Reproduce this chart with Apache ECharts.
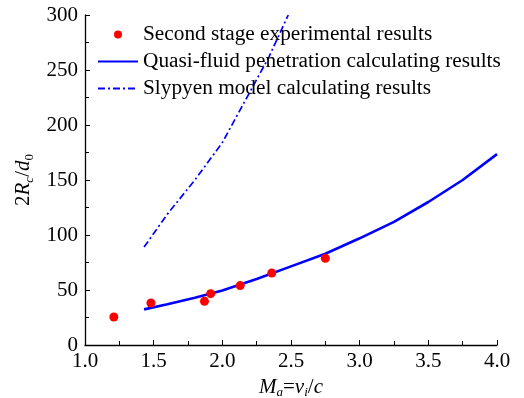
<!DOCTYPE html>
<html>
<head>
<meta charset="utf-8">
<script src="https://cdn.jsdelivr.net/npm/echarts@6/dist/echarts.min.js"></script>
<style>
  html, body { margin: 0; padding: 0; background: #fff; }
  #chart { width: 524px; height: 398px; }
</style>
</head>
<body>
<div id="chart"></div>
<script>
// Second stage experiments: Mach number vs. crater diameter ratio
const expMach = [1.21, 1.48, 1.87, 1.915, 2.13, 2.36, 2.75];
const expRatio = [25.5, 38.2, 39.7, 46.7, 54.0, 65.5, 78.8];

// Quasi-fluid penetration model
const quasiMach = [1.43, 1.6, 1.8, 2.0, 2.25, 2.5, 2.75, 3.0, 3.25, 3.5, 3.75, 4.0];
const quasiRatio = [32.4, 37, 43, 49.5, 60, 71.5, 83, 97, 112, 130, 150, 173.5];

// Slypyen model
const slyMach = [1.43, 1.6, 1.8, 2.0, 2.17, 2.34, 2.48];
const slyRatio = [89, 119, 150, 184, 223, 262, 300];

const seriesNames = [
  'Second stage experimental results',
  'Quasi-fluid penetration calculating results',
  'Slypyen model calculating results'
];

const serif = 'Liberation Serif';
const zip = (xs, ys) => xs.map((x, i) => [x, ys[i]]);

const chart = echarts.init(document.getElementById('chart'), null, { renderer: 'canvas' });

const axisCommon = {
  axisLine: { show: true, lineStyle: { color: '#000', width: 1.3 } },
  axisTick: { show: true, inside: true, length: 5, lineStyle: { color: '#000', width: 1 } },
  minorTick: { show: true, splitNumber: 2, length: 4, lineStyle: { color: '#000', width: 1 } },
  splitLine: { show: false },
  minorSplitLine: { show: false },
  axisLabel: { color: '#000', fontFamily: serif, fontSize: 21 }
};

// Axis titles: italic symbols with lowered subscripts
const richName = {
  i: { fontFamily: serif, fontStyle: 'italic', fontSize: 21, color: '#000', lineHeight: 24, verticalAlign: 'middle' },
  n: { fontFamily: serif, fontSize: 21, color: '#000', lineHeight: 24, verticalAlign: 'middle' },
  s: { fontFamily: serif, fontStyle: 'italic', fontSize: 13, color: '#000', lineHeight: 24, verticalAlign: 'bottom' },
  u: { fontFamily: serif, fontSize: 13, color: '#000', lineHeight: 24, verticalAlign: 'bottom' }
};

// Legend icons for the two curves: line only, no point marker
const hiddenMarker = { opacity: 0 };

chart.setOption({
  animation: false,
  backgroundColor: '#fff',
  grid: { left: 85, right: 27, top: 15, bottom: 53, containLabel: false, outerBoundsMode: 'none' },
  legend: {
    orient: 'vertical',
    left: 97,
    top: 24,
    padding: 0,
    itemWidth: 40,
    itemHeight: 8,
    itemGap: 6,
    textStyle: { color: '#000', fontFamily: serif, fontSize: 21.3 },
    data: [
      { name: seriesNames[0], icon: 'circle' },
      { name: seriesNames[1], itemStyle: hiddenMarker },
      { name: seriesNames[2], itemStyle: hiddenMarker }
    ]
  },
  xAxis: Object.assign({}, axisCommon, {
    type: 'value',
    min: 1.0,
    max: 4.0,
    interval: 0.5,
    axisLabel: Object.assign({}, axisCommon.axisLabel, {
      margin: 6,
      formatter: v => v.toFixed(1)
    }),
    name: '{i|M}{s|a}{n|=}{i|v}{s|i}{n|/}{i|c}',
    nameLocation: 'middle',
    nameGap: 26,
    nameTextStyle: { rich: richName }
  }),
  yAxis: Object.assign({}, axisCommon, {
    type: 'value',
    min: 0,
    max: 300,
    interval: 50,
    axisLabel: Object.assign({}, axisCommon.axisLabel, { margin: 7 }),
    name: '{n|2}{i|R}{s|c}{n|/}{i|d}{u|0}',
    nameLocation: 'middle',
    nameRotate: 90,
    nameGap: 47,
    nameTextStyle: { rich: richName }
  }),
  series: [
    {
      name: seriesNames[0],
      type: 'scatter',
      symbol: 'circle',
      symbolSize: 9,
      itemStyle: { color: '#ff0000', opacity: 1 },
      data: zip(expMach, expRatio),
      z: 5
    },
    {
      name: seriesNames[1],
      type: 'line',
      showSymbol: false,
      symbol: 'none',
      lineStyle: { color: '#0000ff', width: 2.6 },
      itemStyle: { color: '#0000ff' },
      data: zip(quasiMach, quasiRatio)
    },
    {
      name: seriesNames[2],
      type: 'line',
      showSymbol: false,
      symbol: 'none',
      lineStyle: { color: '#0000ff', width: 1.7, type: [7, 3, 2, 3] },
      itemStyle: { color: '#0000ff' },
      data: zip(slyMach, slyRatio)
    }
  ]
});
</script>
</body>
</html>
